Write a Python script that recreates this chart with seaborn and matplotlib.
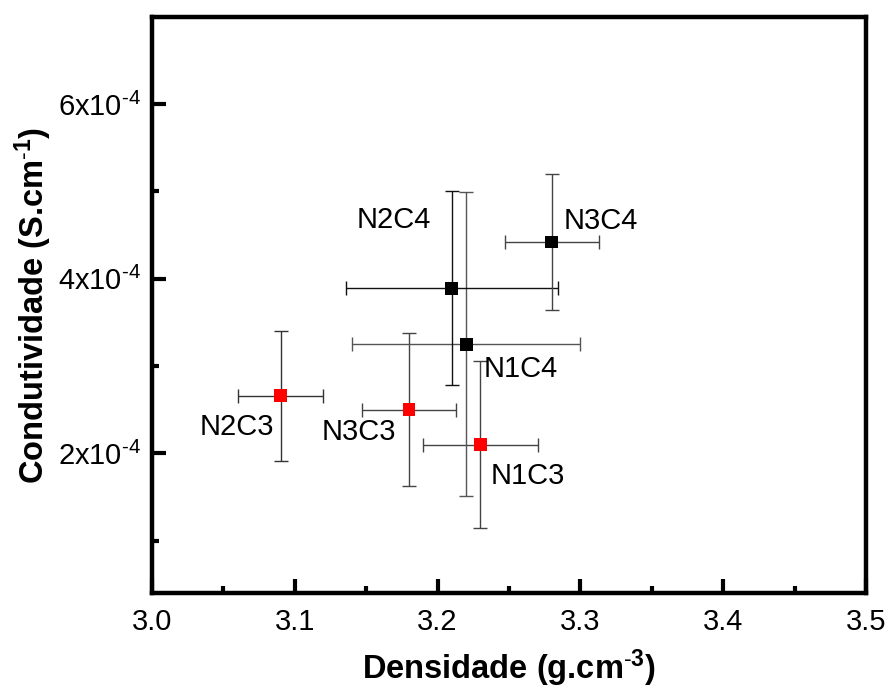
import matplotlib
matplotlib.use("Agg")
import matplotlib.pyplot as plt
from matplotlib.ticker import FixedLocator
import seaborn as sns
import pandas as pd

# Samples: density (g/cm3) vs ionic conductivity (S/cm), with standard deviations
samples = ["N2C3", "N3C3", "N1C3", "N1C4", "N2C4", "N3C4"]
series = ["C3", "C3", "C3", "C4", "C4", "C4"]
density = [3.09, 3.18, 3.23, 3.22, 3.21, 3.28]
density_err = [0.030, 0.033, 0.040, 0.080, 0.074, 0.033]
conductivity = [2.66e-4, 2.50e-4, 2.10e-4, 3.25e-4, 3.89e-4, 4.42e-4]
conductivity_err = [0.745e-4, 0.88e-4, 0.955e-4, 1.74e-4, 1.11e-4, 0.777e-4]

x_ticks = [3.0, 3.1, 3.2, 3.3, 3.4, 3.5]
x_ticklabels = ["3.0", "3.1", "3.2", "3.3", "3.4", "3.5"]
x_minor = [3.05, 3.15, 3.25, 3.35, 3.45]
y_ticks = [2e-4, 4e-4, 6e-4]
y_ticklabels = [r"2x10$^{\text{-}4}$", r"4x10$^{\text{-}4}$", r"6x10$^{\text{-}4}$"]
y_minor = [1e-4, 3e-4, 5e-4]
x_label = r"Densidade (g.cm$^{\mathbf{\text{-}3}}$)"
y_label = r"Condutividade (S.cm$^{\mathbf{\text{-}1}}$)"

# label offsets (pixels) from each marker
label_dx = [-44, -50, 47, 55, -58, 49]
label_dy = [-31, -22, -31, -25, 68, 21]
bar_colors = ["#333333", "#444444", "#444444", "#555555", "#111111", "#444444"]

df = pd.DataFrame({"sample": samples, "series": series, "density": density,
                   "conductivity": conductivity})

sns.set_theme(style="ticks")
plt.rcParams["font.family"] = ["Liberation Sans", "DejaVu Sans"]
plt.rcParams["mathtext.fontset"] = "custom"
plt.rcParams["mathtext.rm"] = "Liberation Sans"
plt.rcParams["mathtext.it"] = "Liberation Sans"
plt.rcParams["mathtext.bf"] = "Liberation Sans:bold"

fig = plt.figure(figsize=(8.87, 6.92), dpi=100)
ax = fig.add_axes([0.1714, 0.1431, 0.8049, 0.8326])

for i in range(len(samples)):
    ax.errorbar(density[i], conductivity[i], xerr=density_err[i], yerr=conductivity_err[i],
                fmt="none", ecolor=bar_colors[i], elinewidth=1.0, capsize=5, capthick=1.0,
                zorder=2)

sns.scatterplot(data=df, x="density", y="conductivity", hue="series",
                palette={"C3": "#ff0000", "C4": "#000000"}, marker="s", s=85,
                linewidth=0, legend=False, ax=ax, zorder=3)

for i, name in enumerate(samples):
    ax.annotate(name, (density[i], conductivity[i]), xytext=(label_dx[i], label_dy[i]),
                textcoords="offset pixels", ha="center", va="center",
                fontsize=21, color="#000000")

ax.set_xlim(3.0, 3.5)
ax.set_ylim(0.4e-4, 7.0e-4)
ax.xaxis.set_major_locator(FixedLocator(x_ticks))
ax.set_xticklabels(x_ticklabels)
ax.xaxis.set_minor_locator(FixedLocator(x_minor))
ax.yaxis.set_major_locator(FixedLocator(y_ticks))
ax.set_yticklabels(y_ticklabels)
ax.yaxis.set_minor_locator(FixedLocator(y_minor))

ax.tick_params(which="major", direction="in", length=10, width=3, labelsize=21,
               pad=8, color="black", labelcolor="black")
ax.tick_params(axis="x", which="major", pad=11)
ax.tick_params(which="minor", direction="in", length=5, width=3, color="black")
ax.tick_params(top=False, right=False, which="both")

for sp in ax.spines.values():
    sp.set_linewidth(3.2)
    sp.set_color("black")
    sp.set_visible(True)

label_font = dict(family=["Liberation Sans", "DejaVu Sans"],
                  weight="bold", size=23.5, color="black")
ax.set_xlabel(x_label, fontdict=label_font, labelpad=8)
ax.set_ylabel(y_label, fontdict=label_font, labelpad=3)
ax.grid(False)

fig.savefig("out.png", dpi=100)
